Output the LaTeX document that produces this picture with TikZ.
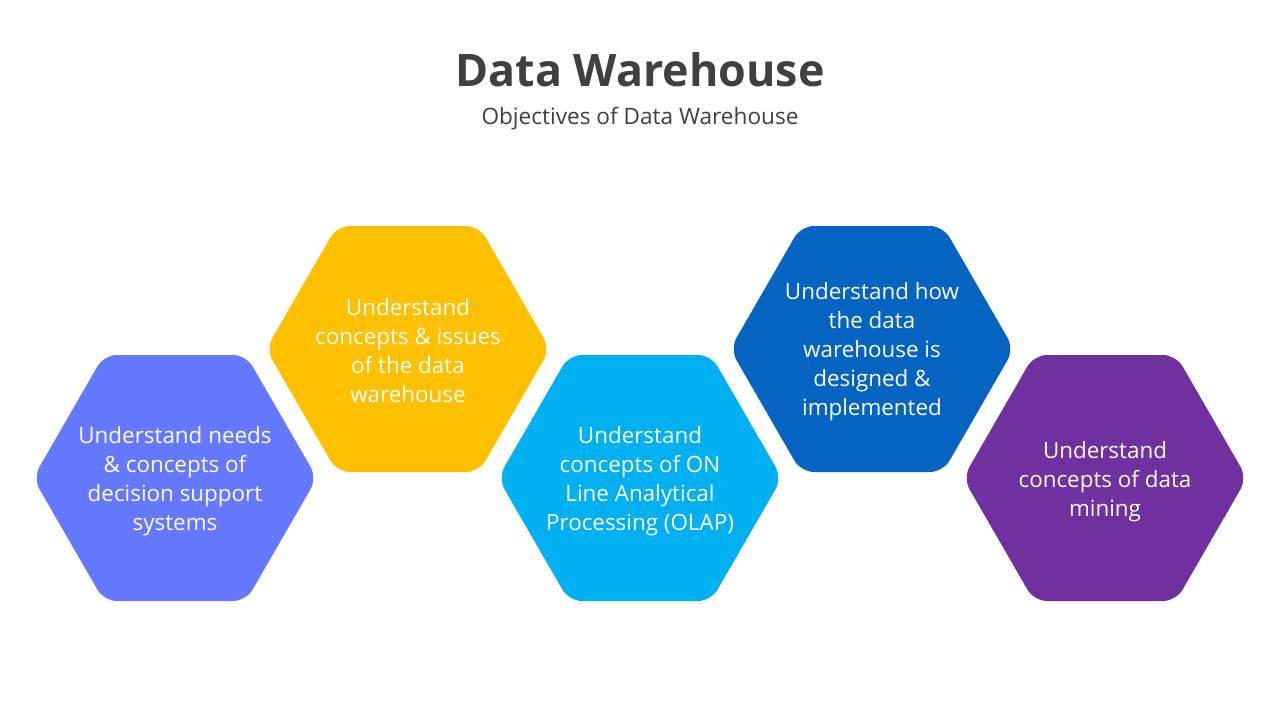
\documentclass[tikz,border=0pt]{standalone}
\usepackage{fontspec}
\setmainfont{Open Sans}
\definecolor{hexA}{HTML}{6479FF}
\definecolor{hexB}{HTML}{FFC000}
\definecolor{hexC}{HTML}{00B0F0}
\definecolor{hexD}{HTML}{0563C1}
\definecolor{hexE}{HTML}{7030A0}
\definecolor{titlegray}{HTML}{404040}
\newcommand\hexshape[3]{%
  \fill[#3, rounded corners=13pt] (#1+142,#2) -- (#1+71,#2-123) -- (#1-71,#2-123) -- (#1-142,#2) -- (#1-71,#2+123) -- (#1+71,#2+123) -- cycle;}
\begin{document}
\begin{tikzpicture}[x=1pt,y=-1pt,
  hextext/.style={text=white, align=center, font=\fontsize{22.4}{29}\selectfont},
  titletext/.style={text=titlegray, font=\fontsize{44.8}{52}\selectfont\bfseries},
  subtext/.style={text=titlegray, font=\fontsize{22.6}{27}\selectfont}]
\useasboundingbox[fill=white] (0,0) rectangle (1280,720);
\node[titletext] (title) at (640,70) {Data Warehouse};
\node[subtext] (subtitle) at (640,119) {Objectives of Data Warehouse};
\hexshape{175}{478}{hexA}
\hexshape{408}{349}{hexB}
\hexshape{640}{478}{hexC}
\hexshape{872}{349}{hexD}
\hexshape{1105}{478}{hexE}
\node[hextext] (t1) at (175,481) {Understand needs\\\& concepts of\\decision support\\systems};
\node[hextext] (t2) at (408,351) {Understand\\concepts \& issues\\of the data\\warehouse};
\node[hextext] (t3) at (640,481) {Understand\\concepts of ON\\Line Analytical\\Processing (OLAP)};
\node[hextext] (t4) at (872,352) {Understand how\\the data\\warehouse is\\designed \&\\implemented};
\node[hextext] (t5) at (1105,482) {Understand\\concepts of data\\mining};
\end{tikzpicture}
\end{document}
